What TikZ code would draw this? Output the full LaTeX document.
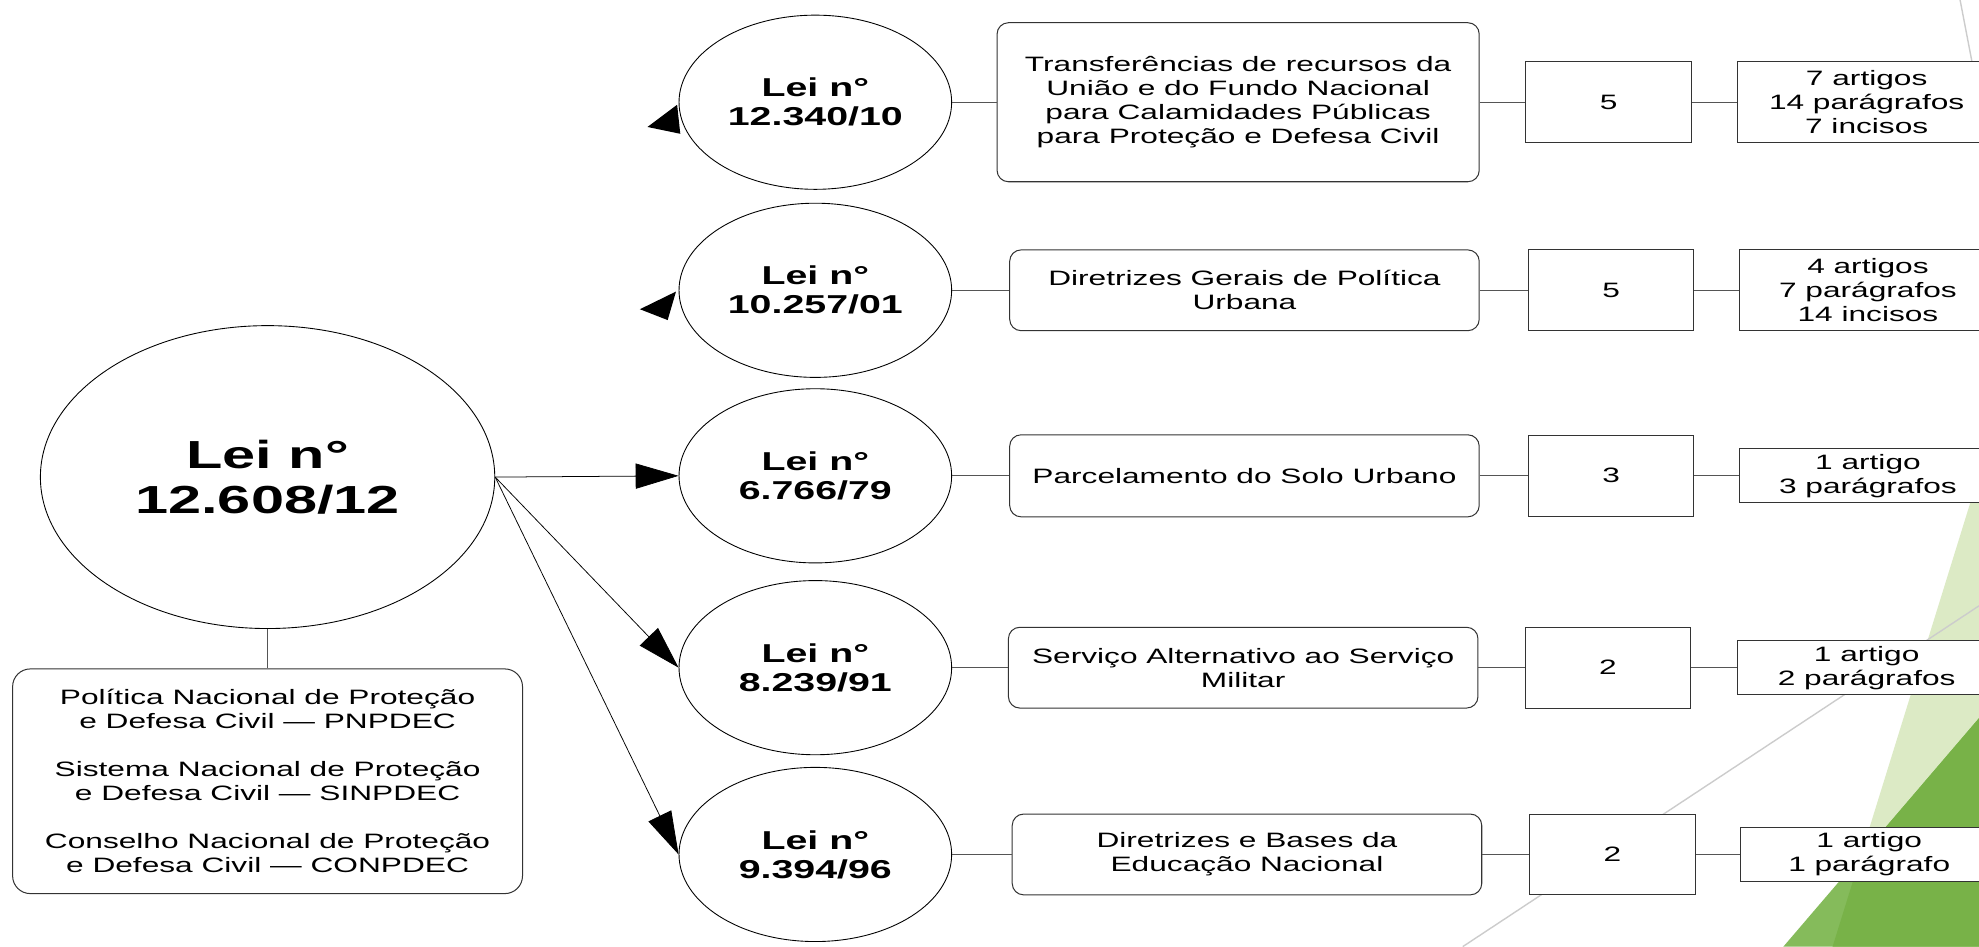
\documentclass[tikz,border=0pt]{standalone}
\usepackage{fontspec}
\setmainfont{Liberation Sans}[FakeStretch=1.52]
\usetikzlibrary{shapes.geometric,arrows.meta,calc}
\definecolor{lgreen}{HTML}{DCEAC5}
\definecolor{dgreen}{HTML}{78B248}
\definecolor{mgreen}{HTML}{85BB5B}
\definecolor{decogrey}{HTML}{CCCCCC}
\definecolor{edge}{HTML}{333333}
\definecolor{connc}{HTML}{555555}
\begin{document}
\begin{tikzpicture}[x=1pt,y=-1pt,
  lei/.style={ellipse,draw=black,line width=0.7pt,fill=white,minimum width=216pt,minimum height=138pt,inner sep=0pt,align=center,font=\fontsize{20.5}{23}\selectfont\bfseries},
  desc/.style={rectangle,rounded corners=9pt,draw=edge,line width=0.8pt,fill=white,minimum width=372pt,minimum height=64pt,inner sep=0pt,align=center,font=\fontsize{16.5}{19}\selectfont},
  numbox/.style={rectangle,draw=edge,line width=0.8pt,fill=white,minimum width=131pt,minimum height=64pt,inner sep=0pt,font=\fontsize{16.5}{19}\selectfont},
  countbox/.style={rectangle,draw=edge,line width=0.8pt,fill=white,minimum width=204pt,minimum height=43pt,inner sep=0pt,align=center,font=\fontsize{16.5}{19}\selectfont},
  conn/.style={draw=connc,line width=0.9pt},
  arr/.style={draw=black,line width=0.6pt,-{Triangle[length=34pt,width=20pt]}},
  deco/.style={draw=decogrey,line width=1.1pt}]
\clip (0,0) rectangle (1568,750);
\fill[white] (0,0) rectangle (1568,750);
% background decoration
\fill[lgreen] (1568,376) -- (1568,750) -- (1452,750) -- cycle;
\fill[mgreen] (1568,569) -- (1568,750) -- (1413,750) -- cycle;
\fill[dgreen] (1568,569) -- (1568,750) -- (1452,750) -- (1474.2,678.6) -- cycle;
\draw[deco] (1553,0) -- (1568,78);
\draw[deco] (1568,480) -- (1159,750);
% main law
\node[lei,minimum width=360pt,minimum height=240pt,font=\fontsize{31}{36}\selectfont\bfseries] (main) at (212,378) {Lei n°\\12.608/12};
\node[rectangle,rounded corners=14pt,draw=edge,line width=0.8pt,fill=white,minimum width=404pt,minimum height=178pt,inner sep=0pt,align=center,font=\fontsize{16.5}{19}\selectfont] (info) at (212,619)
  {Política Nacional de Proteção\\e Defesa Civil — PNPDEC\\[19pt]Sistema Nacional de Proteção\\e Defesa Civil — SINPDEC\\[19pt]Conselho Nacional de Proteção\\e Defesa Civil — CONPDEC};
% related laws
\node[lei] (e1) at (646,81) {Lei n°\\12.340/10};
\node[lei] (e2) at (646,230) {Lei n°\\10.257/01};
\node[lei] (e3) at (646,377) {Lei n°\\6.766/79};
\node[lei] (e4) at (646,529) {Lei n°\\8.239/91};
\node[lei] (e5) at (646,677) {Lei n°\\9.394/96};
% descriptions
\node[desc,minimum width=382pt,minimum height=126pt] (d1) at (981,81) {Transferências de recursos da\\União e do Fundo Nacional\\para Calamidades Públicas\\para Proteção e Defesa Civil};
\node[desc] (d2) at (986,230) {Diretrizes Gerais de Política\\Urbana};
\node[desc,minimum height=65pt] (d3) at (986,377) {Parcelamento do Solo Urbano};
\node[desc] (d4) at (985,529) {Serviço Alternativo ao Serviço\\Militar};
\node[desc] (d5) at (988,677) {Diretrizes e Bases da\\Educação Nacional};
% numbers
\node[numbox] (n1) at (1274.5,81) {5};
\node[numbox] (n2) at (1276.5,230) {5};
\node[numbox] (n3) at (1276.5,377) {3};
\node[numbox] (n4) at (1274,529) {2};
\node[numbox] (n5) at (1277.5,677) {2};
% counts
\node[countbox,minimum height=64pt] (c1) at (1479,81) {7 artigos\\14 parágrafos\\7 incisos};
\node[countbox,minimum height=64pt] (c2) at (1480,230) {4 artigos\\7 parágrafos\\14 incisos};
\node[countbox] (c3) at (1480,377) {1 artigo\\3 parágrafos};
\node[countbox] (c4) at (1479,529) {1 artigo\\2 parágrafos};
\node[countbox] (c5) at (1481,677) {1 artigo\\1 parágrafo};
% connectors
\draw[conn] (main) -- (info);
\foreach \i in {1,...,5}{
  \draw[conn] (e\i) -- (d\i);
  \draw[conn] (d\i) -- (n\i);
  \draw[conn] (n\i) -- (c\i);
}
\draw[arr] (main.east) -- (e3.west);
\draw[arr] (main.east) -- (e4.west);
\draw[arr] (main.east) -- (e5.west);
% stray arrowheads
\fill ($(e1.center)+(-133,19.6)$) -- ($(e1.center)+(-109.5,2)$) -- ($(e1.center)+(-107,25)$) -- cycle;
\fill ($(e2.center)+(-139,15)$) -- ($(e2.center)+(-110.4,1)$) -- ($(e2.center)+(-117,23.6)$) -- cycle;
\end{tikzpicture}
\end{document}
